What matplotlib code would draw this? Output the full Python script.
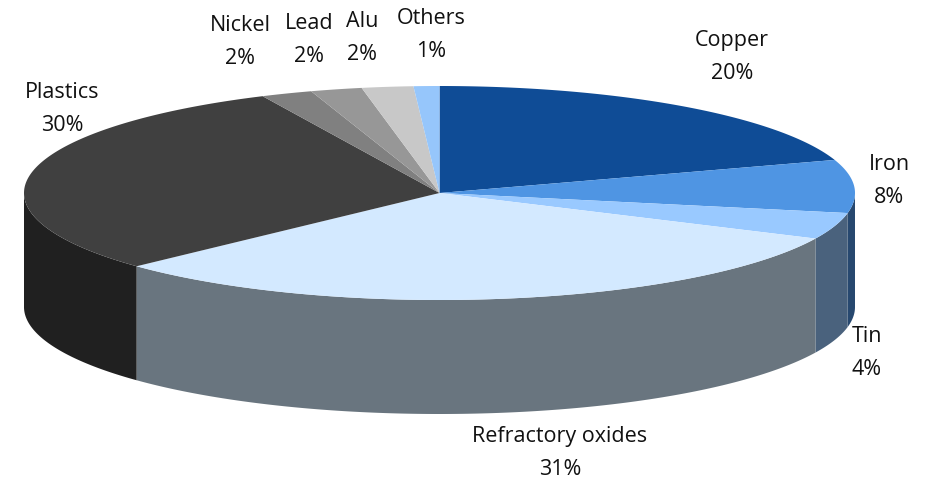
import numpy as np
import matplotlib
matplotlib.use("Agg")
import matplotlib.pyplot as plt
from matplotlib.patches import Polygon

# data
materials = ["Copper", "Iron", "Tin", "Refractory oxides", "Plastics",
             "Nickel", "Lead", "Alu", "Others"]
shares = [20, 8, 4, 31, 30, 2, 2, 2, 1]

# styles
top_colors = ["#0F4C96", "#4F95E3", "#99C9FF", "#D3E9FF", "#404040",
              "#808080", "#979797", "#C8C8C8", "#96C6FB"]
side_colors = ["#0A3366", "#27486F", "#4A627D", "#69757F", "#202020",
               "#555555", "#666666", "#888888", "#5A7896"]
# label anchor (centre of the two-line block), figure pixels
label_pos = [(732, 57), (889, 181), (867, 353), (560, 453), (62, 109),
             (240, 42), (309, 40), (362, 38), (431, 35)]

# pie geometry in pixels
cx, cy = 439.5, 193
rx, ry = 415.5, 107
depth = 114

fig = plt.figure(figsize=(9.28, 4.84), dpi=100)
ax = fig.add_axes([0, 0, 1, 1])
ax.set_xlim(0, 928)
ax.set_ylim(484, 0)
ax.axis("off")


def arc(t1, t2, dy=0):
    t = np.radians(np.linspace(t1, t2, 200))
    return np.column_stack([cx + rx * np.cos(t), cy - ry * np.sin(t) + dy])


total = float(sum(shares))
cum = np.concatenate([[0], np.cumsum(shares)]) / total
starts = 90 - cum[:-1] * 360
ends = 90 - cum[1:] * 360

# front walls
for i in range(len(shares)):
    a, b = starts[i], ends[i]
    # visible front band is angles -180..0
    hi = min(a, 0)
    lo = max(b, -180)
    if hi > lo:
        top = arc(hi, lo)
        bot = arc(lo, hi, depth)
        ax.add_patch(Polygon(np.vstack([top, bot]), closed=True,
                             facecolor=side_colors[i], edgecolor="none"))

# top face
for i in range(len(shares)):
    pts = np.vstack([[cx, cy], arc(starts[i], ends[i])])
    ax.add_patch(Polygon(pts, closed=True, facecolor=top_colors[i],
                         edgecolor="none"))

for name, val, (lx, ly) in zip(materials, shares, label_pos):
    ax.text(lx, ly, f"{name}\n{val}%", ha="center", va="center",
            fontsize=15.5, family="Open Sans", linespacing=1.8,
            color="#111111")

fig.savefig("out.png", dpi=100, facecolor="white")
